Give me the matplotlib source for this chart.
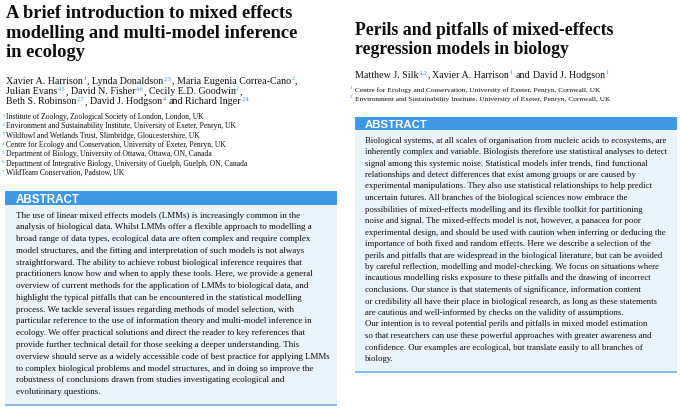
import matplotlib
matplotlib.use("Agg")  # no display
import matplotlib.pyplot as plt
from matplotlib.patches import Rectangle

# --- page texts -------------------------------------------------------------
left_title = ["A brief introduction to mixed effects",
              "modelling and multi-model inference",
              "in ecology"]
left_authors = [
    [("Xavier A. Harrison", "1"), ("Lynda Donaldson", "2,3"), ("Maria Eugenia Correa-Cano", "2")],
    [("Julian Evans", "4,5"), ("David N. Fisher", "4,6"), ("Cecily E.D. Goodwin", "2")],
    [("Beth S. Robinson", "2,7"), ("David J. Hodgson", "4"), ("Richard Inger", "2,4")],
]
left_affils = ["Institute of Zoology, Zoological Society of London, London, UK",
               "Environment and Sustainability Institute, University of Exeter, Penryn, UK",
               "Wildfowl and Wetlands Trust, Slimbridge, Gloucestershire, UK",
               "Centre for Ecology and Conservation, University of Exeter, Penryn, UK",
               "Department of Biology, University of Ottawa, Ottawa, ON, Canada",
               "Department of Integrative Biology, University of Guelph, Guelph, ON, Canada",
               "WildTeam Conservation, Padstow, UK"]
left_abstract = [
    "The use of linear mixed effects models (LMMs) is increasingly common in the",
    "analysis of biological data. Whilst LMMs offer a flexible approach to modelling a",
    "broad range of data types, ecological data are often complex and require complex",
    "model structures, and the fitting and interpretation of such models is not always",
    "straightforward. The ability to achieve robust biological inference requires that",
    "practitioners know how and when to apply these tools. Here, we provide a general",
    "overview of current methods for the application of LMMs to biological data, and",
    "highlight the typical pitfalls that can be encountered in the statistical modelling",
    "process. We tackle several issues regarding methods of model selection, with",
    "particular reference to the use of information theory and multi-model inference in",
    "ecology. We offer practical solutions and direct the reader to key references that",
    "provide further technical detail for those seeking a deeper understanding. This",
    "overview should serve as a widely accessible code of best practice for applying LMMs",
    "to complex biological problems and model structures, and in doing so improve the",
    "robustness of conclusions drawn from studies investigating ecological and",
    "evolutionary questions.",
]

right_title = ["Perils and pitfalls of mixed-effects",
               "regression models in biology"]
right_authors = [[("Matthew J. Silk", "1,2"), ("Xavier A. Harrison", "1"), ("David J. Hodgson", "1")]]
right_affils = ["Centre for Ecology and Conservation, University of Exeter, Penryn, Cornwall, UK",
                "Environment and Sustainability Institute, University of Exeter, Penryn, Cornwall, UK"]
right_abstract = [
    "Biological systems, at all scales of organisation from nucleic acids to ecosystems, are",
    "inherently complex and variable. Biologists therefore use statistical analyses to detect",
    "signal among this systemic noise. Statistical models infer trends, find functional",
    "relationships and detect differences that exist among groups or are caused by",
    "experimental manipulations. They also use statistical relationships to help predict",
    "uncertain futures. All branches of the biological sciences now embrace the",
    "possibilities of mixed-effects modelling and its flexible toolkit for partitioning",
    "noise and signal. The mixed-effects model is not, however, a panacea for poor",
    "experimental design, and should be used with caution when inferring or deducing the",
    "importance of both fixed and random effects. Here we describe a selection of the",
    "perils and pitfalls that are widespread in the biological literature, but can be avoided",
    "by careful reflection, modelling and model-checking. We focus on situations where",
    "incautious modelling risks exposure to these pitfalls and the drawing of incorrect",
    "conclusions. Our stance is that statements of significance, information content",
    "or credibility all have their place in biological research, as long as these statements",
    "are cautious and well-informed by checks on the validity of assumptions.",
    "Our intention is to reveal potential perils and pitfalls in mixed model estimation",
    "so that researchers can use these powerful approaches with greater awareness and",
    "confidence. Our examples are ecological, but translate easily to all branches of",
    "biology.",
]

# --- look --------------------------------------------------------------------
W, H = 680, 411
SERIF = "Liberation Serif"
SANS = "Liberation Sans"
TXT = "#0e0e0e"
BLUE = "#3d98e6"
SUPBLUE = "#3a8ad6"
BOXBG = "#eaf4fd"
RULE = "#86bdec"

fig = plt.figure(figsize=(W / 100, H / 100), dpi=100)
fig.patch.set_facecolor("white")
rend = fig.canvas.get_renderer()


def fx(x):
    return x / W


def fy(y):
    return 1 - y / H


def put(x, y, s, size, **kw):
    kw.setdefault("color", TXT)
    kw.setdefault("family", SERIF)
    return fig.text(fx(x), fy(y), s, fontsize=size, va="baseline", ha="left", **kw)


def width_px(s, size, **kw):
    t = put(0, 0, s, size, **kw)
    w = t.get_window_extent(rend).width
    t.remove()
    return w


def fit(lines, target, **kw):
    # font size (pt) that makes the widest of the lines about target pixels wide
    if isinstance(lines, str):
        lines = [lines]
    return 10 * target / max(width_px(s, 10, **kw) for s in lines)


def space_px(size):
    return width_px("n n", size) - width_px("nn", size)


def author_lines(x, y0, step, lines, size):
    sp = space_px(size)
    sup_size = size * 0.62
    lift = size * 100 / 72 * 0.36
    flat = [a for line in lines for a in line]
    k = 0
    for i, line in enumerate(lines):
        cx = x
        y = y0 + i * step
        for name, sup in line:
            t = put(cx, y, name, size)
            cx += t.get_window_extent(rend).width + 0.6
            t = put(cx, y - lift, sup, sup_size, color=SUPBLUE)
            cx += t.get_window_extent(rend).width
            k += 1
            if k == len(flat):
                break
            if k == len(flat) - 1:
                cx += sp
                t = put(cx, y, "and", size)
                cx += t.get_window_extent(rend).width + sp
            else:
                t = put(cx + 0.3, y, ",", size)
                cx += t.get_window_extent(rend).width + 0.3 + sp


def affil_lines(xnum, xtext, y0, step, lines, size):
    for i, s in enumerate(lines):
        y = y0 + i * step
        put(xnum, y - size * 100 / 72 * 0.3, str(i + 1), size * 0.7, color=SUPBLUE)
        put(xtext, y, s, size)


def abstract_box(x0, x1, top, bottom, head_h, text_x, head_w, y0, step, lines, max_w):
    fig.add_artist(Rectangle((fx(x0), fy(bottom)), (x1 - x0) / W, (bottom - top) / H,
                             transform=fig.transFigure, facecolor=BOXBG, edgecolor="none"))
    fig.add_artist(Rectangle((fx(x0), fy(top + head_h)), (x1 - x0) / W, head_h / H,
                             transform=fig.transFigure, facecolor=BLUE, edgecolor="none"))
    fig.add_artist(Rectangle((fx(x0), fy(bottom + 1.6)), (x1 - x0) / W, 1.6 / H,
                             transform=fig.transFigure, facecolor=RULE, edgecolor="none"))
    hs = fit("ABSTRACT", head_w, family=SANS, weight="bold")
    put(text_x, top + head_h - 2.2, "ABSTRACT", hs, family=SANS, weight="bold", color="white")
    size = fit(lines, max_w)
    for i, s in enumerate(lines):
        put(text_x, y0 + i * step, s, size)


# --- left article ------------------------------------------------------------
ts = fit(left_title, 292, weight="bold")
for i, s in enumerate(left_title):
    put(6, 18 + i * 19.7, s, ts, weight="bold")
author_lines(6, 83.5, 10.3, left_authors, fit("Maria Eugenia Correa-Cano", 113))
affil_lines(2, 6, 119, 9.3, left_affils, fit(left_affils, 242))
abstract_box(5, 337, 191.5, 404, 13.5, 16, 64, 217.5, 11.77, left_abstract, 311)

# --- right article -----------------------------------------------------------
ts = fit(right_title, 258, weight="bold")
for i, s in enumerate(right_title):
    put(355, 35 + i * 19, s, ts, weight="bold")
author_lines(355, 77.5, 10.3, right_authors, fit("Xavier A. Harrison", 77))
affil_lines(350, 355, 91.7, 9.0, right_affils, fit(right_affils, 253))
abstract_box(355, 677, 117, 371, 13, 365, 62, 142.5, 11.5, right_abstract, 302)

fig.savefig("out.png", dpi=100, facecolor="white")
